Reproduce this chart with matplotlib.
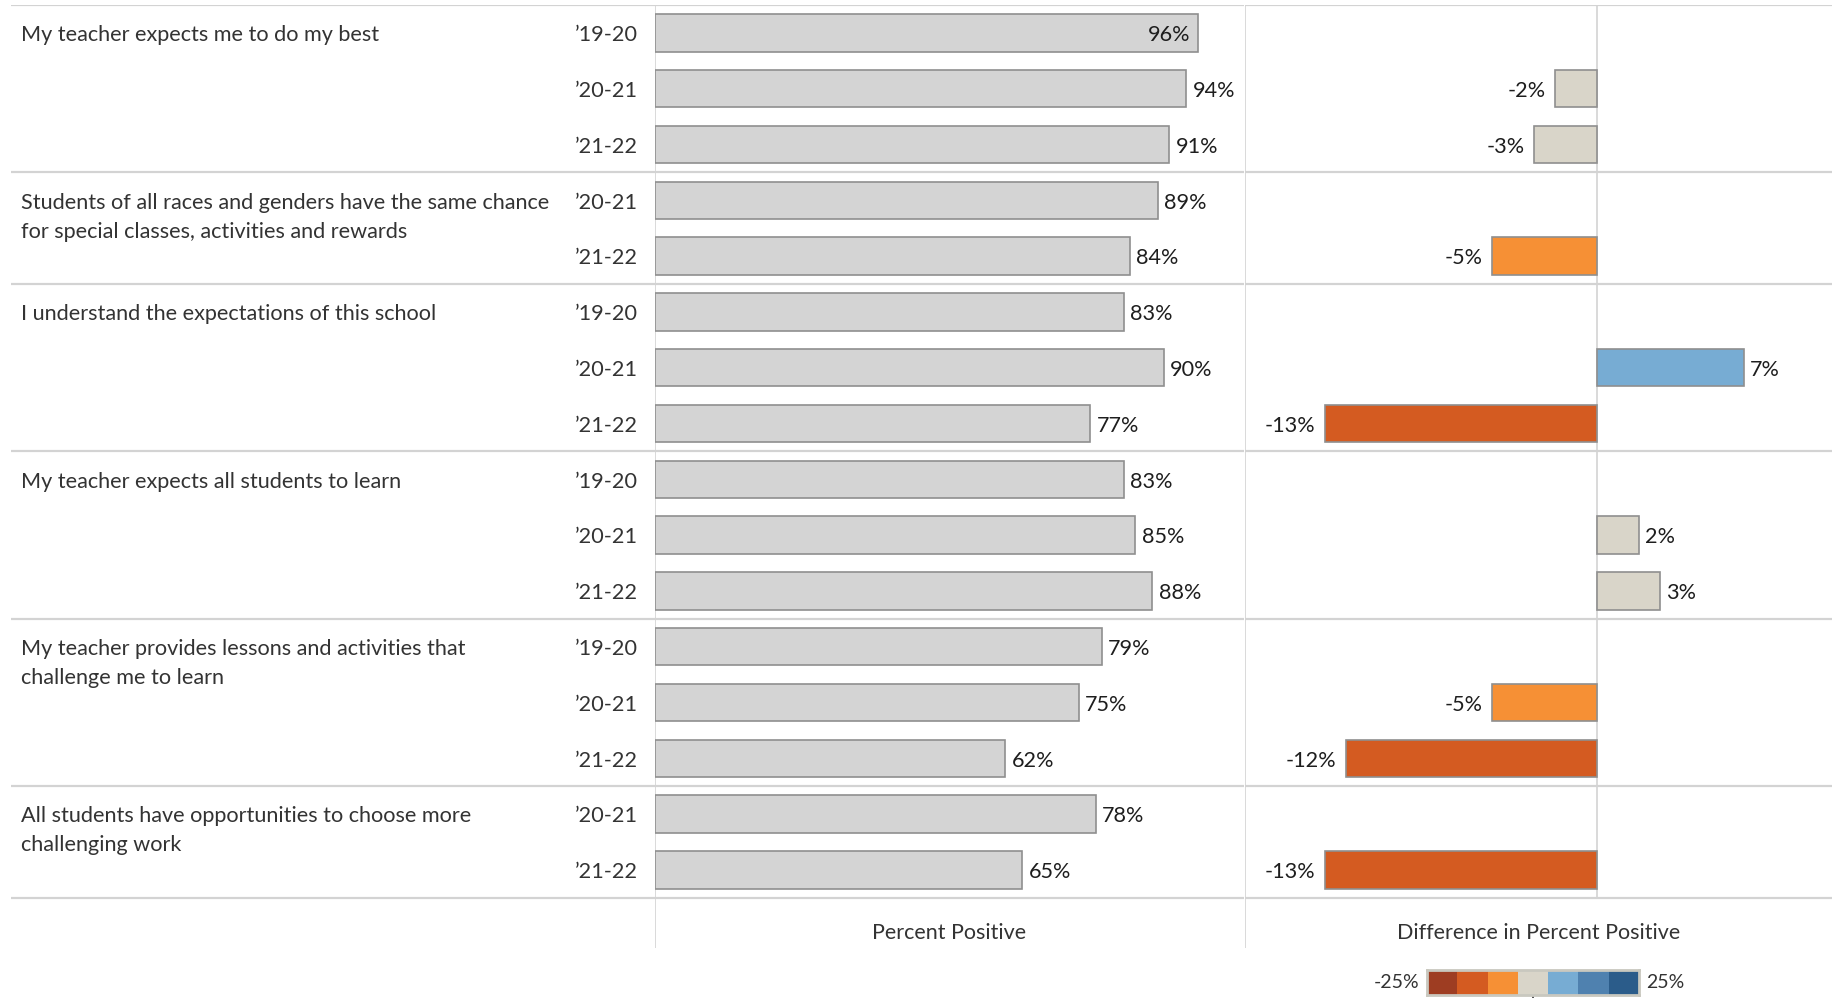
import numpy as np
import matplotlib.pyplot as plt
from matplotlib.colors import ListedColormap, BoundaryNorm

plt.rcParams['font.family'] = ['Lato', 'DejaVu Sans']

# survey items, one group of rows per item
questions = [
    "My teacher expects me to do my best",
    "Students of all races and genders have the same chance\nfor special classes, activities and rewards",
    "I understand the expectations of this school",
    "My teacher expects all students to learn",
    "My teacher provides lessons and activities that\nchallenge me to learn",
    "All students have opportunities to choose more\nchallenging work",
]
years = [
    ["\u201919-20", "\u201920-21", "\u201921-22"],
    ["\u201920-21", "\u201921-22"],
    ["\u201919-20", "\u201920-21", "\u201921-22"],
    ["\u201919-20", "\u201920-21", "\u201921-22"],
    ["\u201919-20", "\u201920-21", "\u201921-22"],
    ["\u201920-21", "\u201921-22"],
]
pct_positive = [
    [96, 94, 91],
    [89, 84],
    [83, 90, 77],
    [83, 85, 88],
    [79, 75, 62],
    [78, 65],
]
# change from previous year, None for the first year shown
pct_diff = [
    [None, -2, -3],
    [None, -5],
    [None, 7, -13],
    [None, 2, 3],
    [None, -5, -12],
    [None, -13],
]

legend_colors = ['#9e3d22', '#d45b21', '#f69035', '#d9d5c9', '#77acd3', '#4f81af', '#2b5c8a']
cmap = ListedColormap(legend_colors)
norm = BoundaryNorm(np.linspace(-25, 25, 8), cmap.N)

W, H = 1832, 998
fig = plt.figure(figsize=(W / 100, H / 100), dpi=100)

top_px, bot_px = 5, 948
n_rows = sum(len(y) for y in years)
y_max = n_rows + 0.9
ax_b = 1 - bot_px / H
ax_h = (bot_px - top_px) / H

ax_lab = fig.add_axes([11 / W, ax_b, (655 - 11) / W, ax_h])
ax_pct = fig.add_axes([655 / W, ax_b, (1244 - 655) / W, ax_h])
ax_dif = fig.add_axes([1245 / W, ax_b, (W - 1245) / W, ax_h])

for ax in (ax_lab, ax_pct, ax_dif):
    ax.set_ylim(y_max, 0)
    ax.axis('off')
ax_lab.set_xlim(0, 1)
ax_pct.set_xlim(0, 104.2)
ax_dif.set_xlim(-16.8, 11.2)

grid_c = '#d3d3d3'
txt_c = '#333333'
val_c = '#1e1e1e'
fs = 15.6
bar_h = 0.67
dy = 0.04

# group separators
edges = np.concatenate([[0], np.cumsum([len(y) for y in years])])
for ax in (ax_lab, ax_pct, ax_dif):
    for e in edges:
        ax.axhline(e, color=grid_c, lw=1.6, zorder=1)

ax_pct.axvline(0, color=grid_c, lw=1.2, zorder=1)
ax_dif.axvline(-16.8, color=grid_c, lw=1.2, zorder=1)
ax_dif.vlines(0, 0, n_rows, color=grid_c, lw=1.2, zorder=1)

row = 0
for q, yrs, vals, diffs in zip(questions, years, pct_positive, pct_diff):
    for i, line in enumerate(q.split("\n")):
        ax_lab.text(0.0155, row + 0.5 + dy + i * 0.523, line, ha='left', va='center',
                    fontsize=fs, color=txt_c)
    for yr, v, d in zip(yrs, vals, diffs):
        yc = row + 0.5
        ax_lab.text(0.9736, yc + dy, yr, ha='right', va='center', fontsize=fs, color=txt_c)
        ax_pct.barh(yc, v, height=bar_h, color='#d4d4d4', edgecolor='#8f8f8f',
                    lw=1.2, zorder=2)
        if v >= 95:
            ax_pct.annotate(f"{v}%", (v, yc + dy), xytext=(-5, 0), textcoords='offset points',
                            ha='right', va='center', fontsize=fs, color=val_c)
        else:
            ax_pct.annotate(f"{v}%", (v, yc + dy), xytext=(4.5, 0), textcoords='offset points',
                            ha='left', va='center', fontsize=fs, color=val_c)
        if d is not None:
            ax_dif.barh(yc, d, height=bar_h, color=cmap(norm(d)), edgecolor='#8f8f8f',
                        lw=1.2, zorder=2)
            if d < 0:
                ax_dif.annotate(f"{d}%", (d, yc + dy), xytext=(-7, 0), textcoords='offset points',
                                ha='right', va='center', fontsize=fs, color=val_c)
            else:
                ax_dif.annotate(f"{d}%", (d, yc + dy), xytext=(4.5, 0), textcoords='offset points',
                                ha='left', va='center', fontsize=fs, color=val_c)
        row += 1

title_y = n_rows + 0.63
ax_pct.text(0.5, title_y, "Percent Positive", transform=ax_pct.get_yaxis_transform(),
            ha='center', va='center', fontsize=15.5, color=txt_c)
ax_dif.text(0.5, title_y, "Difference in Percent Positive",
            transform=ax_dif.get_yaxis_transform(), ha='center', va='center',
            fontsize=15.5, color=txt_c)

# stepped colour legend
ax_leg = fig.add_axes([1427 / W, 1 - 995 / H, (1639 - 1427) / W, 25 / H])
ax_leg.bar(np.arange(len(legend_colors)), 1, width=1, color=legend_colors)
ax_leg.set_xlim(-0.5, len(legend_colors) - 0.5)
ax_leg.set_ylim(0, 1)
ax_leg.set_yticks([])
ax_leg.set_xticks([(len(legend_colors) - 1) / 2])
ax_leg.set_xticklabels([])
ax_leg.tick_params(axis='x', length=5, width=1.2, color='#333333')
for s in ax_leg.spines.values():
    s.set_color('#c9c8bf')
    s.set_linewidth(2)
ax_leg.text(-0.035, 0.5, "-25%", transform=ax_leg.transAxes, ha='right', va='center',
            fontsize=14, color=txt_c)
ax_leg.text(1.035, 0.5, "25%", transform=ax_leg.transAxes, ha='left', va='center',
            fontsize=14, color=txt_c)

fig.savefig("out.png", dpi=100, facecolor='white')
